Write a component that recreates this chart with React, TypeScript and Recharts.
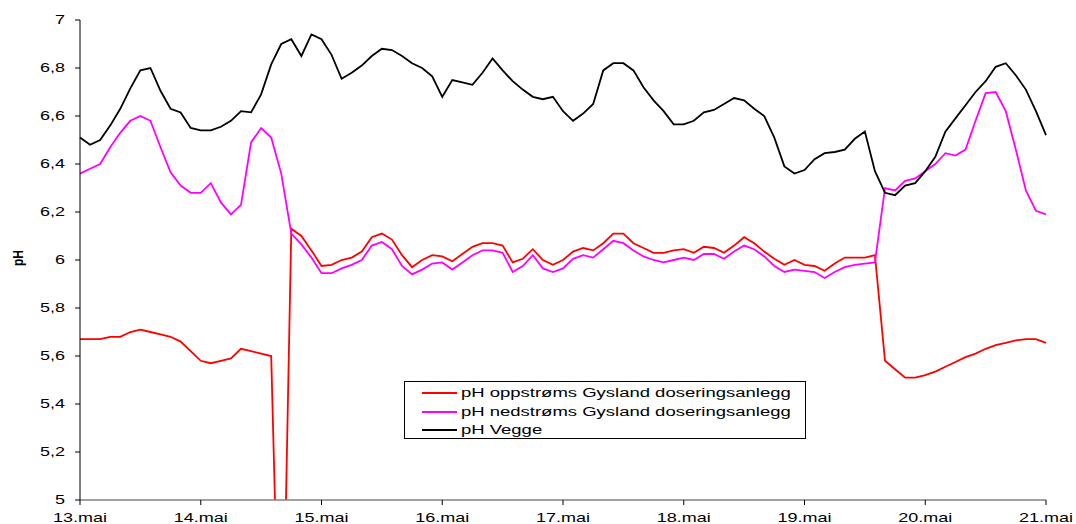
import { LineChart, Line, XAxis, YAxis, Legend } from "recharts";

// hours since 13.mai 00:00, two-hour readings
const hours = [
  0, 2, 4, 6, 8, 10, 12, 14, 16, 18, 20, 22, 24, 26, 28, 30, 32, 34, 36, 38, 40, 42, 44, 46,
  48, 50, 52, 54, 56, 58, 60, 62, 64, 66, 68, 70, 72, 74, 76, 78, 80, 82, 84, 86, 88, 90, 92, 94,
  96, 98, 100, 102, 104, 106, 108, 110, 112, 114, 116, 118, 120, 122, 124, 126, 128, 130, 132, 134, 136, 138, 140, 142,
  144, 146, 148, 150, 152, 154, 156, 158, 160, 162, 164, 166, 168, 170, 172, 174, 176, 178, 180, 182, 184, 186, 188, 190,
  192,
];

const dayTicks = [0, 24, 48, 72, 96, 120, 144, 168, 192];
const dayLabels = ["13.mai", "14.mai", "15.mai", "16.mai", "17.mai", "18.mai", "19.mai", "20.mai", "21.mai"];

const phTicks = [5, 5.2, 5.4, 5.6, 5.8, 6, 6.2, 6.4, 6.6, 6.8, 7];
const phLabels = ["5", "5,2", "5,4", "5,6", "5,8", "6", "6,2", "6,4", "6,6", "6,8", "7"];

const seriesNames = [
  "pH oppstrøms Gysland doseringsanlegg",
  "pH nedstrøms Gysland doseringsanlegg",
  "pH Vegge",
];

const upstream = [
  5.67, 5.67, 5.67, 5.68, 5.68, 5.7, 5.71, 5.7, 5.69, 5.68, 5.66, 5.62, 5.58, 5.57, 5.58, 5.59,
  5.63, 5.62, 5.61, 5.6, 4.0, 6.13, 6.1, 6.04, 5.975, 5.98, 6.0, 6.01, 6.035, 6.095, 6.11, 6.085,
  6.02, 5.97, 6.0, 6.02, 6.015, 5.995, 6.025, 6.055, 6.07, 6.07, 6.06, 5.99, 6.005, 6.045, 6.0, 5.98,
  6.0, 6.035, 6.05, 6.04, 6.07, 6.11, 6.11, 6.07, 6.05, 6.03, 6.03, 6.04, 6.045, 6.03, 6.055, 6.05,
  6.03, 6.06, 6.095, 6.07, 6.035, 6.005, 5.98, 6.0, 5.98, 5.975, 5.955, 5.985, 6.01, 6.01, 6.01, 6.02,
  5.58, 5.545, 5.51, 5.51, 5.52, 5.535, 5.555, 5.575, 5.595, 5.61, 5.63, 5.645, 5.655, 5.665, 5.67, 5.67,
  5.655,
];

const downstream = [
  6.36, 6.38, 6.4, 6.47, 6.53, 6.58, 6.6, 6.58, 6.47, 6.365, 6.31, 6.28, 6.28, 6.32, 6.24, 6.19,
  6.23, 6.49, 6.55, 6.51, 6.36, 6.11, 6.065, 6.01, 5.945, 5.945, 5.965, 5.98, 6.0, 6.06, 6.075, 6.045,
  5.975, 5.94, 5.96, 5.985, 5.99, 5.96, 5.99, 6.02, 6.04, 6.04, 6.03, 5.95, 5.975, 6.02, 5.965, 5.95,
  5.965, 6.005, 6.02, 6.01, 6.045, 6.08, 6.07, 6.04, 6.015, 6.0, 5.99, 6.0, 6.01, 6.0, 6.025, 6.025,
  6.005, 6.035, 6.06, 6.045, 6.015, 5.975, 5.95, 5.96, 5.955, 5.95, 5.925, 5.95, 5.97, 5.98, 5.985, 5.99,
  6.3, 6.29, 6.33, 6.34, 6.37, 6.4, 6.445, 6.435, 6.46, 6.58, 6.695, 6.7, 6.62, 6.46, 6.29, 6.205,
  6.19,
];

const vegge = [
  6.51, 6.48, 6.5, 6.56, 6.63, 6.715, 6.79, 6.8, 6.705, 6.63, 6.615, 6.55, 6.54, 6.54, 6.555, 6.58,
  6.62, 6.615, 6.69, 6.815, 6.9, 6.92, 6.85, 6.94, 6.92, 6.855, 6.755, 6.78, 6.81, 6.85, 6.88, 6.875,
  6.85, 6.82, 6.8, 6.765, 6.68, 6.75, 6.74, 6.73, 6.78, 6.84, 6.79, 6.745, 6.71, 6.68, 6.67, 6.68,
  6.62, 6.58, 6.61, 6.65, 6.79, 6.82, 6.82, 6.79, 6.72, 6.665, 6.62, 6.565, 6.565, 6.58, 6.615, 6.625,
  6.65, 6.675, 6.665, 6.63, 6.6, 6.51, 6.39, 6.36, 6.375, 6.42, 6.445, 6.45, 6.46, 6.505, 6.535, 6.37,
  6.28, 6.27, 6.31, 6.32, 6.37, 6.43, 6.535, 6.59, 6.645, 6.7, 6.745, 6.805, 6.82, 6.77, 6.71, 6.62,
  6.52,
];

const data = hours.map((h, i) => ({
  h,
  up: upstream[i],
  down: downstream[i],
  vegge: vegge[i],
}));

const FONT = "'Liberation Sans', Arial, sans-serif";
// the source picture is stretched sideways, so the text is too
const STRETCH = 1.5;

const XTick = (props: any) => {
  const { x, y, payload } = props;
  return (
    <text
      transform={`translate(${x},${y}) scale(${STRETCH},1)`}
      textAnchor="middle"
      dy="0.71em"
      fontSize={12}
      fontFamily={FONT}
      fill="#000"
    >
      {dayLabels[dayTicks.indexOf(payload.value)]}
    </text>
  );
};

const YTick = (props: any) => {
  const { x, y, payload } = props;
  const i = phTicks.findIndex((t) => Math.abs(t - payload.value) < 1e-6);
  return (
    <text
      transform={`translate(${x},${y}) scale(${STRETCH},1)`}
      textAnchor="end"
      dy="0.355em"
      fontSize={12}
      fontFamily={FONT}
      fill="#000"
    >
      {phLabels[i]}
    </text>
  );
};

const PhLabel = (props: any) => {
  const vb = props.viewBox || { x: 0, y: 20, width: 80, height: 480 };
  const cx = vb.x + 18;
  const cy = vb.y + vb.height / 2 - 2;
  return (
    <text
      transform={`translate(${cx},${cy}) scale(1.25,1) rotate(-90)`}
      textAnchor="middle"
      dy="0.355em"
      fontSize={12}
      fontWeight="bold"
      fontFamily={FONT}
      fill="#000"
    >
      pH
    </text>
  );
};

const renderLegend = (props: any) => {
  const payload = [...(props.payload || [])].sort(
    (a: any, b: any) => seriesNames.indexOf(a.value) - seriesNames.indexOf(b.value)
  );
  return (
    <div
      style={{
        border: "1px solid #000",
        background: "#fff",
        boxSizing: "border-box",
        width: 402,
        height: 58,
        paddingTop: 2,
        paddingLeft: 17,
        fontFamily: FONT,
      }}
    >
      {payload.map((entry: any) => (
        <div key={entry.value} style={{ height: 18.5, display: "flex", alignItems: "center" }}>
          <span style={{ width: 35, height: 0, borderTop: `2px solid ${entry.color}`, marginRight: 4 }} />
          <span
            style={{
              display: "inline-block",
              fontSize: 12,
              color: "#000",
              whiteSpace: "nowrap",
              transform: "scaleX(1.54)",
              transformOrigin: "left center",
            }}
          >
            {entry.value}
          </span>
        </div>
      ))}
    </div>
  );
};

export default function App() {
  return (
    <div style={{ position: "absolute", left: 0, top: 0 }}>
      <LineChart
        width={1076}
        height={524}
        data={data}
        margin={{ top: 20, right: 30, left: 0, bottom: 0 }}
        style={{ fontFamily: FONT, background: "#fff" }}
      >
        <XAxis
          dataKey="h"
          type="number"
          domain={[0, 192]}
          ticks={dayTicks}
          interval={0}
          height={24}
          tickSize={5}
          tickMargin={8}
          axisLine={{ stroke: "#808080", strokeWidth: 1.5 }}
          tickLine={{ stroke: "#000" }}
          tick={<XTick />}
        />
        <YAxis
          type="number"
          domain={[5, 7]}
          ticks={phTicks}
          interval={0}
          allowDataOverflow
          width={80}
          tickSize={5}
          tickMargin={10}
          axisLine={{ stroke: "#000" }}
          tickLine={{ stroke: "#000" }}
          tick={<YTick />}
          label={{ value: "pH", content: <PhLabel /> }}
        />
        <Legend
          layout="vertical"
          align="center"
          verticalAlign="middle"
          wrapperStyle={{ left: 404, top: 381, width: 402, height: 58 }}
          content={renderLegend}
        />
        <Line
          dataKey="up"
          name={seriesNames[0]}
          stroke="#ff0000"
          strokeWidth={1.8}
          dot={false}
          type="linear"
          isAnimationActive={false}
        />
        <Line
          dataKey="down"
          name={seriesNames[1]}
          stroke="#ff00ff"
          strokeWidth={1.8}
          dot={false}
          type="linear"
          isAnimationActive={false}
        />
        <Line
          dataKey="vegge"
          name={seriesNames[2]}
          stroke="#000000"
          strokeWidth={1.8}
          dot={false}
          type="linear"
          isAnimationActive={false}
        />
      </LineChart>
    </div>
  );
}
